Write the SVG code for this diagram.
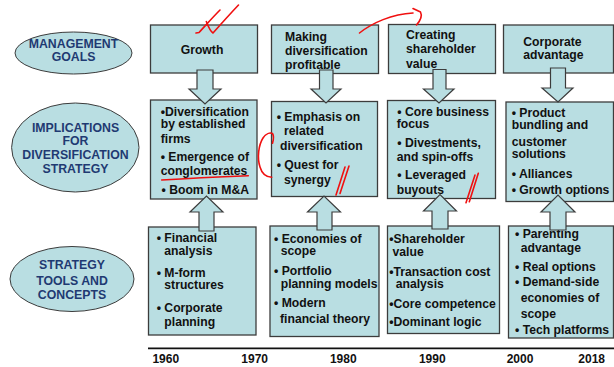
<svg xmlns="http://www.w3.org/2000/svg" width="614" height="367" viewBox="0 0 614 367">
<style>
.box{fill:#B9DEE2;stroke:#3c3c3c;stroke-width:1.3}
.ell{fill:#B9DEE2;stroke:#3c3c3c;stroke-width:1}
.arr{fill:#B9DEE2;stroke:#3c3c3c;stroke-width:1.2;stroke-linejoin:miter}
.t{font-family:"Liberation Sans",Arial,sans-serif;font-weight:bold;font-size:12.2px;fill:#111}
.e{font-family:"Liberation Sans",Arial,sans-serif;font-weight:bold;font-size:12.3px;fill:#1F3A72;text-anchor:middle}
.y{font-family:"Liberation Sans",Arial,sans-serif;font-weight:bold;font-size:12px;fill:#111;text-anchor:middle}
.red{fill:none;stroke:#F01010;stroke-width:1.6;stroke-linecap:round;stroke-linejoin:round}
</style>
<rect width="614" height="367" fill="#ffffff"/>

<g id="label-goals">
<ellipse class="ell" cx="73.5" cy="53" rx="58.5" ry="21"/>
<text class="e" x="73.5" y="47.7">MANAGEMENT</text>
<text class="e" x="73.5" y="61">GOALS</text>
</g>
<g id="label-implications">
<ellipse class="ell" cx="75.3" cy="147.5" rx="63.7" ry="44.5"/>
<text class="e" x="75.5" y="131.7">IMPLICATIONS</text>
<text class="e" x="75.5" y="144.5">FOR</text>
<text class="e" x="75.5" y="159">DIVERSIFICATION</text>
<text class="e" x="75.5" y="173.3">STRATEGY</text>
</g>
<g id="label-tools">
<ellipse class="ell" cx="72" cy="279" rx="62" ry="32.5"/>
<text class="e" x="72" y="269.3">STRATEGY</text>
<text class="e" x="72" y="285">TOOLS AND</text>
<text class="e" x="72" y="299">CONCEPTS</text>
</g>

<g id="goal-growth">
<rect class="box" x="150.5" y="25" width="107" height="48"/>
<text class="t" x="202" y="54.3" text-anchor="middle">Growth</text>
</g>
<g id="goal-profitable">
<rect class="box" x="271.5" y="25" width="107" height="48.5"/>
<text class="t" x="285" y="40.7">Making</text>
<text class="t" x="285" y="54.5">diversification</text>
<text class="t" x="285" y="69">profitable</text>
</g>
<g id="goal-shareholder">
<rect class="box" x="388.5" y="24.5" width="107" height="49"/>
<text class="t" x="406" y="39">Creating</text>
<text class="t" x="406" y="53.3">shareholder</text>
<text class="t" x="406" y="68.3">value</text>
</g>
<g id="goal-advantage">
<rect class="box" x="503.5" y="25" width="110" height="48"/>
<text class="t" x="523.3" y="46">Corporate</text>
<text class="t" x="523.3" y="58.7">advantage</text>
</g>

<g id="impl-1960s">
<rect class="box" x="150.5" y="100" width="106.5" height="99"/>
<text class="t" x="160.7" y="116">•Diversification</text>
<text class="t" x="160.7" y="127.5">by established</text>
<text class="t" x="160.7" y="143.3">firms</text>
<text class="t" x="160.7" y="160.7">• Emergence of</text>
<text class="t" x="160.7" y="175">conglomerates</text>
<text class="t" x="161.5" y="194">• Boom in M&amp;A</text>
</g>
<g id="impl-1970s">
<rect class="box" x="271.5" y="101.5" width="106" height="95"/>
<text class="t" x="276.7" y="120.7">• Emphasis on</text>
<text class="t" x="284" y="135">related</text>
<text class="t" x="280" y="150">diversification</text>
<text class="t" x="276.7" y="169.3">• Quest for</text>
<text class="t" x="284" y="184">synergy</text>
</g>
<g id="impl-1990s">
<rect class="box" x="387.5" y="100.5" width="108" height="98"/>
<text class="t" x="397.3" y="115.7">• Core business</text>
<text class="t" x="396.7" y="128.3">focus</text>
<text class="t" x="397.3" y="146.7">• Divestments,</text>
<text class="t" x="396.7" y="161">and spin-offs</text>
<text class="t" x="397.3" y="179.3">• Leveraged</text>
<text class="t" x="396.7" y="194">buyouts</text>
</g>
<g id="impl-2000s">
<rect class="box" x="506" y="102" width="107.5" height="99.5"/>
<text class="t" x="511.7" y="117.3">• Product</text>
<text class="t" x="511.7" y="129.3">bundling and</text>
<text class="t" x="511.7" y="146">customer</text>
<text class="t" x="511.7" y="158.3">solutions</text>
<text class="t" x="511.7" y="178.3">• Alliances</text>
<text class="t" x="511.7" y="194">• Growth options</text>
</g>

<g id="tools-1960s">
<rect class="box" x="148.5" y="227" width="107.5" height="108"/>
<text class="t" x="156.7" y="241.7">• Financial</text>
<text class="t" x="164.3" y="255">analysis</text>
<text class="t" x="156.7" y="276.7">• M-form</text>
<text class="t" x="164.3" y="289.3">structures</text>
<text class="t" x="156.7" y="311.7">• Corporate</text>
<text class="t" x="164.3" y="326.3">planning</text>
</g>
<g id="tools-1970s">
<rect class="box" x="270" y="226" width="109" height="110.5"/>
<text class="t" x="274" y="243.3">• Economies of</text>
<text class="t" x="280.7" y="255">scope</text>
<text class="t" x="274" y="275">• Portfolio</text>
<text class="t" x="280.7" y="288.3">planning models</text>
<text class="t" x="274" y="307.3">• Modern</text>
<text class="t" x="280" y="322.7">financial theory</text>
</g>
<g id="tools-1990s">
<rect class="box" x="387.5" y="226" width="112" height="107.5"/>
<text class="t" x="389.3" y="243.3">•Shareholder</text>
<text class="t" x="392.5" y="256">value</text>
<text class="t" x="389.3" y="275.7">•Transaction cost</text>
<text class="t" x="395.7" y="288.3">analysis</text>
<text class="t" x="389.3" y="307.7">•Core competence</text>
<text class="t" x="389.3" y="325.7">•Dominant logic</text>
</g>
<g id="tools-2000s">
<rect class="box" x="508.5" y="226" width="105" height="112"/>
<text class="t" x="515" y="238.3">•  Parenting</text>
<text class="t" x="520.7" y="251.7">advantage</text>
<text class="t" x="515" y="270.7">•  Real options</text>
<text class="t" x="515" y="286">•  Demand-side</text>
<text class="t" x="520.7" y="301.7">economies of</text>
<text class="t" x="520.7" y="317.7">scope</text>
<text class="t" x="515" y="334">•  Tech platforms</text>
</g>

<g id="connectors">
<path class="arr" d="M197,70 H213 V89 H221 L205,104 L189,89 H197 Z"/>
<path class="arr" d="M319.5,70 H333 V89 H341 L326,103 L311,89 H319.5 Z"/>
<path class="arr" d="M433,69.5 H446 V89 H454 L439,103 L423.5,89 H433 Z"/>
<path class="arr" d="M550.5,68 H565.5 V88 H573 L558,102 L542,88 H550.5 Z"/>
<path class="arr" d="M199,231 V212 H190 L206.5,196 L223,212 H214 V231 Z"/>
<path class="arr" d="M317,230 V212 H307.5 L324,196 L340.5,212 H332 V230 Z"/>
<path class="arr" d="M432,229 V211 H423.5 L440,194.5 L456.5,211 H448 V229 Z"/>
<path class="arr" d="M550,230 V212 H541 L558,195 L575,212 H566 V230 Z"/>
</g>

<g id="timeline">
<line x1="148" y1="348.3" x2="614" y2="348.3" stroke="#111" stroke-width="1.8"/>
<text class="y" x="165.8" y="363.3">1960</text>
<text class="y" x="254.7" y="363.3">1970</text>
<text class="y" x="343.3" y="363.3">1980</text>
<text class="y" x="432.3" y="363.3">1990</text>
<text class="y" x="520" y="363.3">2000</text>
<text class="y" x="591.7" y="363.3">2018</text>
</g>

<g id="annotations">
<path class="red" d="M196,33 L199,32.5 C206,25 213,17 220,10"/>
<path class="red" d="M206.3,21.5 C208,26 210,31 213,33 C221,24 230,14 238.5,5"/>
<path class="red" d="M359.5,33 C372,23 392,14 413,13"/>
<path class="red" d="M413,8.5 L420.5,12 C422.5,16 420,21 416.5,25"/>
<path class="red" d="M161.7,180 C185,178.5 215,177 248.3,175.7"/>
<path class="red" d="M271.7,177.3 C266,177 262,174 260,167 C257,158 258.5,145 263,138 C266,133.5 270,132.5 272.5,133.5 C274,136 273.5,140 272.5,143.3"/>
<path class="red" d="M336,195 L345,167 M340,193.5 L349,166"/>
<path class="red" d="M466,202.7 L475,175 M469.3,201.7 L478.3,173.3"/>
</g>
</svg>
